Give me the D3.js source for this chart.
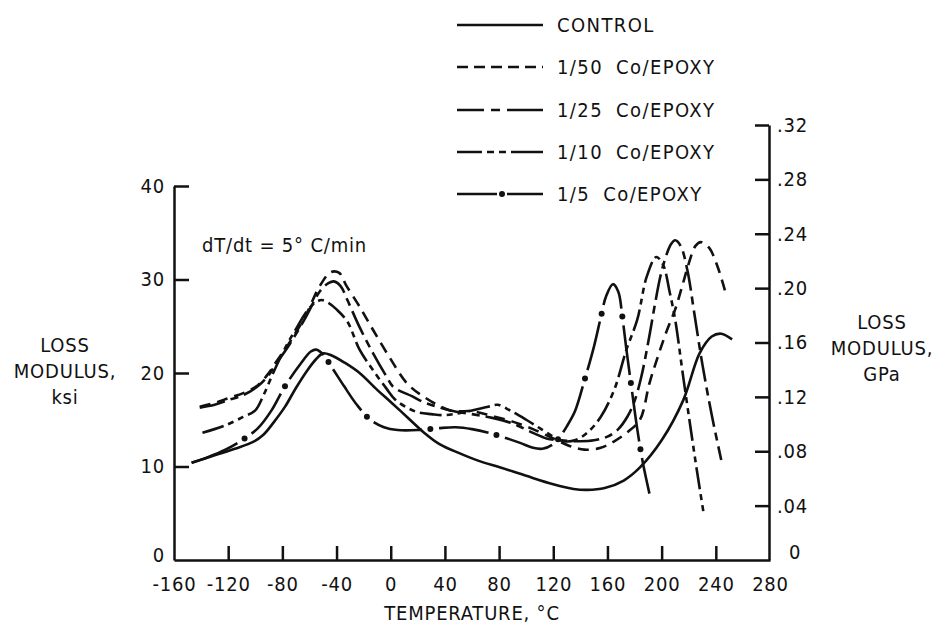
<!DOCTYPE html>
<html lang="en">
<head>
<meta charset="utf-8">
<title>Loss modulus vs temperature</title>
<script src="https://cdn.jsdelivr.net/npm/d3@7"></script>
<style>
	body { margin: 0; background: #fff; }
	svg text {
		font-family: "DejaVu Sans Condensed", "Liberation Sans Narrow", sans-serif;
		font-size: 20px;
		letter-spacing: 0.8px;
		fill: #111;
	}
	svg text.legend { letter-spacing: 1.4px; word-spacing: 6px; }
</style>
</head>
<body>
<script>
// temperature (deg C), loss modulus (ksi)
var control = [[-147,10.4],[-130,11.2],[-115,11.9],[-102,12.6],[-94,13.4],[-86,14.8],[-78,16.4],[-70,18.4],[-62,20.2],[-55,21.5],[-50,22.1],[-44,21.9],[-34,21.1],[-23,20.0],[-10,18.2],[0,16.9],[12,15.3],[24,13.7],[36,12.4],[51,11.4],[65,10.6],[81,9.9],[100,9.0],[120,8.1],[135,7.6],[145,7.5],[158,7.7],[172,8.5],[184,9.9],[200,12.8],[216,17.1],[228,22.1],[237,23.9],[244,24.2],[252,23.6]];
var co50 = [[-141,16.4],[-130,16.8],[-120,17.3],[-108,17.9],[-98,18.7],[-90,20.0],[-85,21.1],[-75,23.2],[-63,26.1],[-52,29.4],[-44,30.8],[-38,30.7],[-33,29.4],[-23,27.1],[-13,24.6],[-1,21.7],[12,18.9],[24,17.5],[44,16.0],[61,15.9],[75,15.4],[90,14.8],[105,14.0],[120,13.0],[132,12.2],[143,11.8],[155,12.0],[165,12.7],[175,13.7],[184,15.0],[191,18.9],[198,22.1],[204,24.6],[210,26.8],[215,29.2],[220,31.7],[225,33.6],[229,34.0],[235,33.4],[241,31.5],[247,28.7]];
var co25 = [[-141,16.3],[-130,16.6],[-120,17.1],[-108,17.7],[-98,18.6],[-90,19.8],[-85,20.9],[-75,23.0],[-63,25.9],[-52,28.8],[-46,29.6],[-42,29.8],[-37,29.3],[-32,27.8],[-23,24.9],[-13,22.1],[-3,19.6],[2,18.5],[16,17.5],[24,16.9],[44,16.0],[60,15.6],[75,15.2],[90,14.6],[105,13.6],[115,13.0],[125,12.8],[140,12.7],[150,12.8],[160,13.2],[168,14.0],[175,15.4],[180,17.0],[185,19.6],[191,24.0],[195,27.3],[199,30.3],[203,32.4],[207,33.8],[210,34.2],[214,33.6],[219,31.0],[224,26.5],[230,21.0],[237,15.5],[244,10.7]];
var co10 = [[-139,13.6],[-122,14.4],[-109,15.3],[-100,16.0],[-94,17.6],[-88,19.6],[-82,21.5],[-76,23.2],[-70,24.7],[-62,26.6],[-56,27.5],[-51,27.8],[-46,27.5],[-40,26.8],[-32,25.5],[-23,22.5],[-13,20.3],[-3,18.3],[3,17.2],[12,16.3],[20,15.8],[30,15.6],[41,15.5],[60,16.0],[72,16.4],[79,16.6],[88,16.0],[100,15.0],[110,14.1],[120,13.2],[128,12.7],[136,12.8],[145,13.6],[155,15.3],[165,18.2],[174,22.5],[182,25.7],[189,30.3],[196,32.4],[201,31.6],[206,28.6],[210,25.7],[216,19.5],[222,13.5],[226,9.6],[231,5.0]];
var co5 = [[-147,10.4],[-135,11.0],[-122,11.8],[-110,12.8],[-98,14.1],[-88,16.0],[-78,18.6],[-66,21.1],[-59,22.3],[-55,22.5],[-50,22.0],[-43,20.5],[-34.5,18.6],[-25,16.6],[-15,15.0],[-5,14.2],[5,13.9],[20,13.9],[35,14.1],[48,14.2],[60,14.0],[75,13.5],[88,12.9],[96,12.5],[105,12.0],[112,11.9],[120,12.4],[125,13.2],[130,14.3],[136,15.9],[143,19.2],[150,22.8],[155,25.9],[159,28.2],[164,29.5],[168,28.7],[171,26.0],[174,22.5],[178,18.2],[182,14.0],[186,10.5],[191,7.1]];

var seriesNames = ["CONTROL", "1/50 Co/EPOXY", "1/25 Co/EPOXY", "1/10 Co/EPOXY", "1/5 Co/EPOXY"];
var xTicks = [-160, -120, -80, -40, 0, 40, 80, 120, 160, 200, 240, 280];
var ksiTicks = [0, 10, 20, 30, 40];
var gpaTicks = [0, 0.04, 0.08, 0.12, 0.16, 0.20, 0.24, 0.28, 0.32];

var width = 947, height = 630;

var svg = d3.select("body").append("svg")
	.attr("width", width)
	.attr("height", height);

var x = d3.scaleLinear().domain([-160, 280]).range([174, 770]);
var yL = d3.scaleLinear().domain([0, 40]).range([560, 186]);
var yR = d3.scaleLinear().domain([0, 0.32]).range([560, 125]);

// axes (ticks point inward)
var gx = svg.append("g")
	.attr("transform", "translate(0,560)")
	.call(d3.axisBottom(x).tickValues(xTicks).tickSize(-14).tickSizeOuter(0).tickPadding(17)
		.tickFormat(function(d) { return String(d); }));

var gl = svg.append("g")
	.attr("transform", "translate(174,0)")
	.call(d3.axisLeft(yL).tickValues(ksiTicks).tickSize(-15).tickSizeOuter(0).tickPadding(9));

var gr = svg.append("g")
	.attr("transform", "translate(769,0)")
	.call(d3.axisRight(yR).tickValues(gpaTicks).tickSize(-14).tickSizeOuter(0).tickPadding(8)
		.tickFormat(function(d) { return d === 0 ? "0" : d3.format(".2f")(d).replace(/^0/, ""); }));

[gx, gl, gr].forEach(function(g) {
	g.selectAll(".domain, .tick line").attr("stroke", "#111").attr("stroke-width", 2.5);
});
gx.selectAll(".tick").filter(function(d) { return d === -160 || d === 280; }).select("line").remove();
gl.selectAll(".tick").filter(function(d) { return d === 0; }).select("line").remove();
gl.selectAll(".tick").filter(function(d) { return d === 0; }).select("text").attr("y", -5);
gr.selectAll(".tick").filter(function(d) { return d === 0; }).select("line").remove();
gr.selectAll(".tick").filter(function(d) { return d === 0; }).select("text").attr("y", -8).attr("x", 20);

// axis titles
svg.append("text").attr("x", 472).attr("y", 620).attr("text-anchor", "middle").text("TEMPERATURE, °C");

var leftTitle = ["LOSS", "MODULUS,", "ksi"];
leftTitle.forEach(function(t, i) {
	svg.append("text").attr("x", 65).attr("y", 352 + i * 26).attr("text-anchor", "middle").text(t);
});
var rightTitle = ["LOSS", "MODULUS,", "GPa"];
rightTitle.forEach(function(t, i) {
	svg.append("text").attr("x", 882).attr("y", 329 + i * 26).attr("text-anchor", "middle").text(t);
});

svg.append("text").attr("x", 202).attr("y", 252).text("dT/dt = 5° C/min");

// curves
var line = d3.line()
	.x(function(d) { return x(d[0]); })
	.y(function(d) { return yL(d[1]); })
	.curve(d3.curveCatmullRom.alpha(0.5));

var allSeries = [control, co50, co25, co10, co5];
var dashes = [null, "11,7", "26,6,8,6", "22,5,6,5,6,5", "50,17"];

var paths = svg.append("g").selectAll("path")
	.data(allSeries)
	.enter()
	.append("path")
	.attr("d", line)
	.attr("fill", "none")
	.attr("stroke", "#111")
	.attr("stroke-width", 2.6)
	.attr("stroke-dasharray", function(d, i) { return dashes[i]; });

// dots for the 1/5 curve, centred in each gap of its dash pattern
var p5 = paths.nodes()[4];
var len5 = p5.getTotalLength();
var dots = [];
for (var s = 58.5; s < len5; s += 67) {
	dots.push(p5.getPointAtLength(s));
}
svg.append("g").selectAll("circle")
	.data(dots)
	.enter()
	.append("circle")
	.attr("cx", function(d) { return d.x; })
	.attr("cy", function(d) { return d.y; })
	.attr("r", 3)
	.attr("fill", "#111");

// legend
var legendY = [25, 67, 110, 152, 194];
var legendDash = [null, "11,6", "27,7,9,7,40", "25,5,7,5,7,5,40", "40,10,40"];
var legend = svg.append("g");
seriesNames.forEach(function(name, i) {
	legend.append("line")
		.attr("x1", 457).attr("x2", 543)
		.attr("y1", legendY[i]).attr("y2", legendY[i])
		.attr("stroke", "#111")
		.attr("stroke-width", 2.6)
		.attr("stroke-dasharray", legendDash[i]);
	legend.append("text")
		.attr("class", "legend")
		.attr("x", 557).attr("y", legendY[i] + 7)
		.text(name);
});
legend.append("circle").attr("cx", 502).attr("cy", legendY[4]).attr("r", 3).attr("fill", "#111");
</script>
</body>
</html>
